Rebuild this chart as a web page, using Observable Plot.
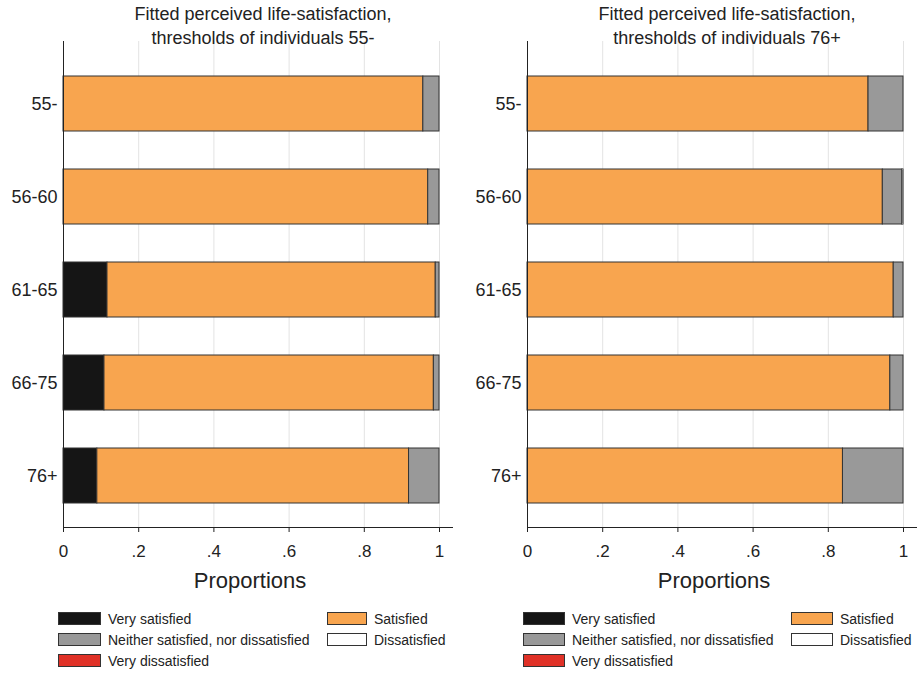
<!DOCTYPE html>
<html>
<head>
<meta charset="utf-8">
<script src="https://cdn.jsdelivr.net/npm/d3@7"></script>
<script src="https://cdn.jsdelivr.net/npm/@observablehq/plot@0.6"></script>
<style>
  html, body { margin: 0; padding: 0; background: #fff; }
  body { width: 917px; height: 677px; overflow: hidden; position: relative;
         font-family: "Liberation Sans", Arial, Helvetica, sans-serif; color: #222; }
  .panel { position: absolute; top: 0; }
  .title { position: absolute; font-size: 18px; line-height: 24px; text-align: center; white-space: nowrap; }
  .xlabel { position: absolute; font-size: 22px; line-height: 22px; text-align: center; white-space: nowrap; }
  .row { position: absolute; display: flex; align-items: center; height: 13px; font-size: 14px; line-height: 14px; white-space: nowrap; }
  .sw { box-sizing: border-box; height: 13px; border: 1px solid #333; margin-right: 7px; }
</style>
</head>
<body>
<script>
// ---- data ----
const ages = ["55-", "56-60", "61-65", "66-75", "76+"];
const categories = ["Very satisfied", "Satisfied", "Neither satisfied, nor dissatisfied", "Dissatisfied", "Very dissatisfied"];
const colors = ["#151515", "#f8a54f", "#999999", "#ffffff", "#e03127"];
const xTicks = [0, 0.2, 0.4, 0.6, 0.8, 1];
const xTickLabels = ["0", ".2", ".4", ".6", ".8", "1"];

const titlesLeft = ["Fitted perceived life-satisfaction,", "thresholds of individuals 55-"];
const titlesRight = ["Fitted perceived life-satisfaction,", "thresholds of individuals 76+"];
const xAxisTitle = "Proportions";

// left panel: thresholds of individuals 55-
const leftVerySatisfied    = [0,     0,     0.117, 0.109, 0.090];
const leftSatisfied        = [0.957, 0.970, 0.873, 0.876, 0.829];
const leftNeither          = [0.043, 0.030, 0.010, 0.015, 0.081];
const leftDissatisfied     = [0,     0,     0,     0,     0];
const leftVeryDissatisfied = [0,     0,     0,     0,     0];

// right panel: thresholds of individuals 76+
const rightVerySatisfied    = [0,     0,     0,     0,     0];
const rightSatisfied        = [0.907, 0.945, 0.974, 0.965, 0.839];
const rightNeither          = [0.093, 0.052, 0.026, 0.035, 0.161];
const rightDissatisfied     = [0,     0.003, 0,     0,     0];
const rightVeryDissatisfied = [0,     0,     0,     0,     0];

// ---- drawing ----
function toRows(series) {
  const rows = [];
  ages.forEach((a, i) => categories.forEach((c, j) => {
    const v = series[j][i];
    if (v > 0) rows.push({age: a, cat: c, value: v});
  }));
  return rows;
}

function panel(series) {
  const data = toRows(series);
  return Plot.plot({
    width: 458, height: 600,
    marginLeft: 63, marginRight: 6, marginTop: 41, marginBottom: 73,
    style: {fontFamily: "'Liberation Sans', Arial, Helvetica, sans-serif", background: "transparent", color: "#222", overflow: "visible"},
    x: {domain: [0, 1], range: [63, 439]},
    y: {domain: ages, range: [57, 522], paddingInner: 0.41, paddingOuter: 0.205, label: null},
    color: {domain: categories, range: colors},
    marks: [
      Plot.gridX(xTicks.filter(d => d > 0), {stroke: "#e3e3e3", strokeOpacity: 1, strokeWidth: 1}),
      Plot.barX(data, Plot.stackX({x: "value", y: "age", fill: "cat", order: categories, stroke: "#333", strokeWidth: 1})),
      Plot.frame({anchor: "left", stroke: "#222", strokeWidth: 1}),
      Plot.frame({anchor: "bottom", stroke: "#222", strokeWidth: 1}),
      Plot.axisX({ticks: xTicks, tickFormat: d => xTickLabels[xTicks.indexOf(d)], tickSize: 5, tickPadding: 12, fontSize: 17, label: null, stroke: "#222"}),
      Plot.axisY({tickSize: 0, tickPadding: 6, fontSize: 18, label: null})
    ]
  });
}

function addDiv(cls, text, style) {
  const d = document.createElement("div");
  d.className = cls;
  if (text != null) d.textContent = text;
  Object.assign(d.style, style);
  document.body.appendChild(d);
  return d;
}

function legendRow(left, top, catIndex, swWidth) {
  const r = addDiv("row", null, {left: left + "px", top: top + "px"});
  const s = document.createElement("div");
  s.className = "sw";
  s.style.width = swWidth + "px";
  s.style.background = colors[catIndex];
  r.appendChild(s);
  const t = document.createElement("span");
  t.textContent = categories[catIndex];
  r.appendChild(t);
}

function build(offset, series, titles, legendCols) {
  const p = panel(series);
  p.classList.add("panel");
  p.style.left = offset + "px";
  document.body.appendChild(p);
  addDiv("title", titles[0], {left: (offset + 113) + "px", width: "300px", top: "2px"});
  addDiv("title", titles[1], {left: (offset + 113) + "px", width: "300px", top: "26px"});
  addDiv("xlabel", xAxisTitle, {left: (offset + 150) + "px", width: "200px", top: "570px"});
  const tops = [612, 633, 654];
  legendRow(offset + legendCols[0], tops[0], 0, legendCols[2]);
  legendRow(offset + legendCols[0], tops[1], 2, legendCols[2]);
  legendRow(offset + legendCols[0], tops[2], 4, legendCols[2]);
  legendRow(offset + legendCols[1], tops[0], 1, legendCols[3]);
  legendRow(offset + legendCols[1], tops[1], 3, legendCols[3]);
}

build(0, [leftVerySatisfied, leftSatisfied, leftNeither, leftDissatisfied, leftVeryDissatisfied], titlesLeft, [58, 327, 43, 40]);
build(464, [rightVerySatisfied, rightSatisfied, rightNeither, rightDissatisfied, rightVeryDissatisfied], titlesRight, [59, 327, 42, 42]);
</script>
</body>
</html>
